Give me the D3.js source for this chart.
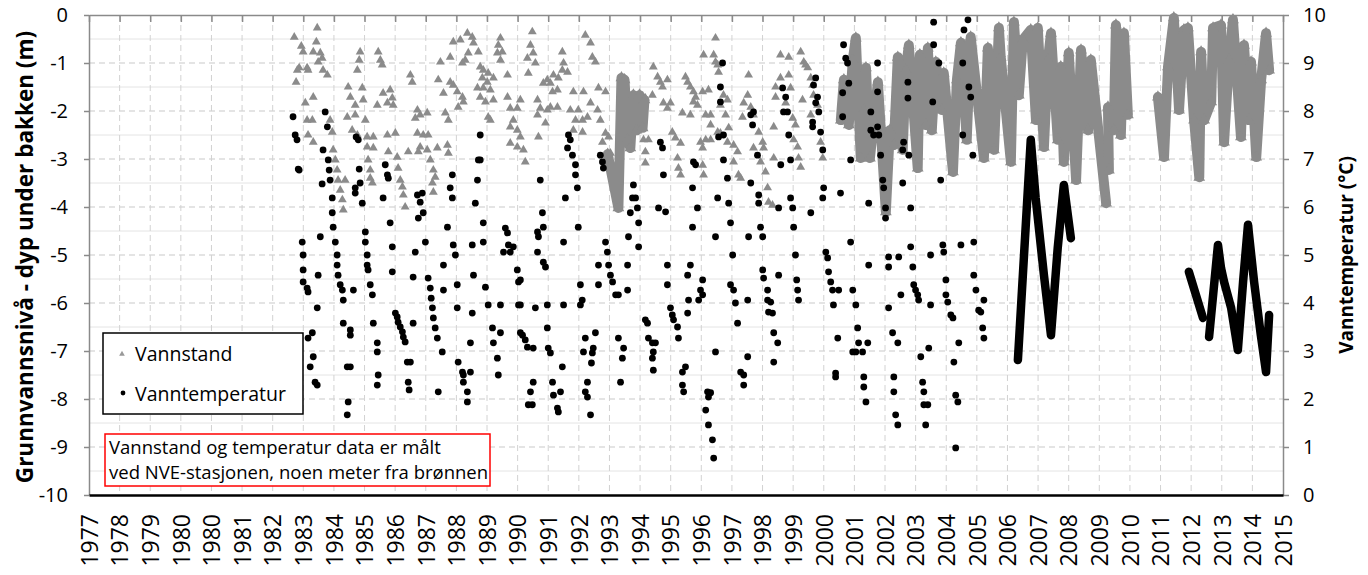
<!DOCTYPE html>
<html><head><meta charset="utf-8">
<script src="https://cdn.jsdelivr.net/npm/d3@7"></script>
<style>body{margin:0;background:#fff}svg{display:block}text{font-family:"Open Sans",sans-serif}</style>
</head><body><svg id="c" width="1368" height="575"></svg>
<script>
const xTickLabels = ["1977","1978","1979","1980","1980","1981","1982","1983","1984","1985","1986","1987","1988","1989","1990","1991","1992","1993","1994","1995","1996","1997","1998","1999","2000","2001","2002","2003","2004","2005","2006","2007","2008","2009","2010","2011","2012","2013","2014","2015"];
const depthTicks = [0,-1,-2,-3,-4,-5,-6,-7,-8,-9,-10];
const tempTicks = [0,1,2,3,4,5,6,7,8,9,10];
const leftTitle = "Grunnvannsnivå - dyp under bakken (m)";
const rightTitle = "Vanntemperatur (°C)";
const legendNames = ["Vannstand","Vanntemperatur"];
const noteLines = ["Vannstand og temperatur data er målt","ved NVE-stasjonen, noen meter fra brønnen"];

// Vannstand (m), sparse manual readings [year, depth]
const vannstand = [[1983.70,-0.46],[1983.93,-0.65],[1983.99,-0.77],[1983.86,-1.10],[1983.80,-1.15],[1984.12,-1.10],[1984.15,-1.15],[1984.45,-0.27],[1984.42,-0.56],[1984.32,-0.77],[1984.55,-0.79],[1984.61,-0.90],[1984.48,-0.98],[1984.64,-1.15],[1984.78,-1.25],[1983.76,-1.40],[1984.06,-1.83],[1984.32,-1.71],[1984.12,-2.19],[1984.29,-2.19],[1984.15,-2.50],[1984.32,-2.65],[1984.87,-2.19],[1984.94,-2.44],[1984.97,-2.81],[1985.04,-3.02],[1985.10,-3.23],[1985.13,-3.44],[1985.20,-3.65],[1985.27,-3.85],[1985.30,-4.06],[1985.36,-3.44],[1985.46,-1.50],[1985.53,-1.71],[1985.92,-1.52],[1985.69,-1.88],[1985.95,-1.77],[1985.85,-0.77],[1985.82,-0.94],[1985.76,-1.15],[1986.44,-0.77],[1986.51,-0.94],[1986.57,-1.04],[1985.43,-2.13],[1985.69,-2.08],[1986.02,-2.19],[1985.59,-2.40],[1985.76,-2.50],[1986.08,-2.54],[1986.28,-2.54],[1986.08,-2.75],[1986.28,-2.77],[1986.11,-3.02],[1986.18,-3.23],[1986.18,-3.40],[1986.25,-3.50],[1986.41,-1.88],[1986.60,-1.63],[1986.83,-1.56],[1986.90,-1.73],[1986.74,-1.83],[1986.93,-1.88],[1986.74,-2.50],[1987.00,-2.46],[1986.77,-2.85],[1987.06,-2.96],[1987.09,-3.19],[1987.16,-3.44],[1987.23,-3.58],[1987.26,-3.75],[1987.32,-4.00],[1987.49,-1.25],[1987.55,-1.40],[1987.72,-1.98],[1987.65,-2.15],[1987.81,-2.08],[1988.04,-2.04],[1987.72,-2.46],[1987.91,-2.50],[1988.07,-2.50],[1987.81,-2.75],[1988.04,-2.81],[1988.14,-3.02],[1988.24,-3.23],[1988.30,-3.38],[1988.21,-3.50],[1988.24,-3.69],[1987.42,-2.85],[1987.75,-2.85],[1988.37,-2.77],[1988.70,-2.71],[1988.73,-2.88],[1988.63,-2.04],[1988.73,-2.19],[1988.40,-1.35],[1988.47,-0.98],[1988.79,-0.88],[1988.89,-0.56],[1989.12,-0.52],[1989.35,-0.38],[1989.51,-0.46],[1989.55,-0.58],[1989.71,-0.77],[1989.38,-0.79],[1989.19,-1.00],[1989.28,-0.94],[1988.79,-1.40],[1988.89,-1.46],[1989.02,-1.60],[1989.19,-1.71],[1989.22,-1.81],[1989.05,-1.92],[1988.57,-1.63],[1989.77,-1.08],[1989.87,-1.15],[1990.03,-1.21],[1989.84,-1.31],[1990.00,-1.40],[1989.68,-1.52],[1989.87,-1.52],[1990.10,-1.56],[1989.77,-1.71],[1989.94,-1.81],[1990.20,-1.77],[1990.20,-1.31],[1990.43,-0.48],[1990.33,-0.79],[1990.49,-0.77],[1990.43,-0.94],[1990.66,-1.25],[1990.36,-0.63],[1990.03,-2.13],[1990.10,-2.19],[1990.66,-1.71],[1990.75,-1.94],[1990.98,-1.94],[1991.08,-1.77],[1990.85,-2.19],[1990.75,-2.33],[1990.98,-2.40],[1991.08,-2.54],[1990.75,-2.67],[1990.98,-2.75],[1991.18,-2.81],[1991.24,-3.06],[1991.47,-0.35],[1991.41,-0.63],[1991.50,-0.79],[1991.31,-0.90],[1991.57,-1.00],[1991.34,-1.21],[1991.64,-1.77],[1991.73,-1.94],[1991.96,-1.98],[1991.64,-2.08],[1991.90,-2.25],[1991.67,-2.54],[1991.83,-1.42],[1991.96,-1.35],[1992.06,-1.42],[1992.16,-1.25],[1992.32,-1.31],[1992.29,-1.56],[1992.13,-1.60],[1992.45,-1.15],[1992.62,-1.19],[1992.49,-1.00],[1992.45,-0.77],[1992.29,-1.92],[1992.06,-1.92],[1992.81,-1.60],[1993.14,-1.60],[1992.71,-1.98],[1992.97,-1.98],[1992.88,-2.19],[1993.11,-2.19],[1993.27,-2.13],[1993.37,-1.83],[1993.60,-1.98],[1993.69,-2.19],[1992.81,-2.40],[1993.11,-2.44],[1993.86,-2.46],[1993.96,-2.54],[1993.76,-2.65],[1993.63,-1.52],[1993.86,-1.60],[1993.20,-0.42],[1993.37,-0.58],[1993.43,-0.88],[1993.53,-0.98],[1994.02,-2.88],
[1995.16,-1.73],[1995.39,-1.67],[1995.10,-2.60],[1995.26,-2.60],[1995.16,-2.85],[1995.16,-3.08],[1995.42,-1.08],[1995.56,-1.29],[1995.65,-1.40],[1995.88,-1.35],[1995.72,-1.50],[1995.75,-1.83],[1995.98,-1.83],[1995.88,-1.94],[1996.04,-2.44],[1996.14,-2.56],[1996.31,-2.67],[1996.21,-2.98],[1996.24,-3.19],[1996.31,-3.33],[1996.47,-1.29],[1996.54,-1.40],[1996.63,-1.50],[1996.73,-1.60],[1996.80,-1.71],[1996.73,-1.81],[1996.86,-1.88],[1996.37,-2.04],[1996.63,-2.08],[1997.03,-1.60],[1997.13,-2.08],[1997.29,-2.08],[1996.96,-2.65],[1997.13,-2.60],[1997.29,-2.60],[1997.03,-2.77],[1997.03,-3.13],[1997.06,-3.33],[1997.06,-0.83],[1997.45,-0.48],[1997.39,-0.83],[1997.45,-0.98],[1997.55,-1.19],[1997.52,-1.04],[1997.22,-1.56],[1997.71,-1.67],[1997.84,-1.77],[1997.61,-1.88],[1997.78,-2.08],[1997.29,-2.29],[1997.52,-2.44],[1997.61,-2.46],[1997.88,-2.35],[1997.84,-2.65],[1998.04,-2.71],[1998.17,-2.85],[1998.04,-3.06],[1998.20,-3.33],[1998.27,-3.40],[1998.33,-2.13],[1998.53,-1.25],[1998.50,-1.67],[1998.37,-1.83],[1998.60,-1.92],[1998.69,-2.08],[1998.86,-2.44],[1998.99,-2.65],[1999.02,-2.77],[1998.69,-2.77],[1998.92,-3.06],[1999.08,-3.27],[1999.15,-3.60],[1999.18,-3.90],
[1999.57,-0.83],[1999.84,-0.88],[2000.23,-0.77],[2000.33,-0.98],[2000.39,-1.04],[2000.46,-1.10],[1999.41,-1.50],[1999.57,-1.31],[1999.84,-1.25],[1999.90,-1.52],[1999.41,-1.71],[1999.74,-1.83],[2000.29,-1.77],[2000.56,-1.31],[2000.62,-1.46],[2000.65,-1.67],[2000.78,-1.88],[1999.35,-2.33],[1999.97,-2.15],[2000.06,-2.29],[2000.00,-2.60],[2000.13,-2.75],[2000.16,-2.98],[2000.23,-3.17],[1999.35,-2.98],[1999.31,-3.96],[2000.88,-2.65],[2000.95,-2.98],[2000.56,-2.08]];

// Vannstand, continuous logger periods [year, depth]
const vannstandLogger1 = [[1993.93,-2.90],[1994.28,-4.02],[1994.38,-1.31],[1994.48,-1.35],[1994.58,-2.60],[1994.67,-2.77],[1994.77,-1.67],[1994.87,-2.40],[1994.97,-1.67],[1995.07,-2.35],[1995.13,-1.77]];
const vannstandLogger2 = [[2001.54,-2.19],[2001.64,-1.35],[2001.80,-2.29],[2001.93,-0.94],[2002.03,-0.48],[2002.19,-2.98],[2002.29,-1.98],[2002.36,-1.10],[2002.49,-2.98],[2002.62,-2.19],[2002.75,-1.40],[2003.01,-4.10],[2003.14,-2.40],[2003.27,-2.71],[2003.40,-0.88],[2003.56,-2.81],[2003.66,-1.15],[2003.76,-0.63],[2004.05,-3.19],[2004.12,-0.83],[2004.31,-2.29],[2004.38,-0.69],[2004.51,-2.40],[2004.64,-0.98],[2004.84,-1.98],[2004.90,-1.21],[2005.20,-3.27],[2005.33,-1.35],[2005.46,-0.58],[2005.65,-2.60],[2005.78,-0.46],[2006.21,-2.98],[2006.34,-0.69],[2006.54,-2.81],[2006.70,-0.27],[2006.76,-0.88],[2007.09,-3.06],[2007.19,-0.15],[2007.35,-1.67],[2007.48,-0.52],[2007.74,-0.31],[2007.91,-2.19],[2007.97,-0.27],[2008.17,-2.75],[2008.30,-0.94],[2008.40,-0.38],[2008.62,-2.60],[2008.72,-1.08],[2008.82,-3.06],[2008.98,-0.79],[2009.22,-3.44],[2009.38,-0.73],[2009.61,-2.40],[2009.70,-0.94],[2010.20,-3.92]];
const vannstandLogger3 = [[2010.26,-1.92],[2010.29,-3.23]];
const vannstandLogger4 = [[2010.45,-2.40],[2010.52,-0.21],[2010.68,-2.50],[2010.78,-0.38],[2010.91,-2.08]];
const vannstandLogger5 = [[2011.89,-1.71],[2012.09,-2.96],[2012.22,-1.08],[2012.41,-0.06],[2012.58,-1.98],[2012.74,-0.31],[2012.87,-0.27],[2013.07,-2.19],[2013.24,-3.38],[2013.30,-0.77],[2013.40,-2.19],[2013.63,-1.81],[2013.69,-0.27],[2013.95,-0.21],[2014.05,-2.65],[2014.21,-0.94],[2014.34,-0.10],[2014.60,-2.54],[2014.70,-0.63],[2014.86,-2.19],[2014.93,-0.98],[2015.10,-2.96],[2015.26,-1.35],[2015.42,-0.38],[2015.52,-1.15]];

// Vanntemperatur (°C), manual readings [year, temp]
const temperatur = [[1983.66,7.88],[1983.73,7.50],[1983.79,7.40],[1983.83,6.79],[1983.86,6.77],[1984.71,7.98],[1984.78,7.67],[1984.64,7.19],[1984.81,6.98],[1984.84,6.77],[1984.87,6.56],[1984.61,6.48],[1984.94,6.19],[1984.94,5.88],[1984.97,5.58],[1985.04,5.27],[1985.10,5.00],[1985.10,4.79],[1985.13,4.58],[1985.20,4.38],[1985.27,4.27],[1985.30,4.06],[1985.30,3.58],[1985.53,3.44],[1985.53,3.33],[1985.43,2.67],[1985.53,2.67],[1985.46,1.94],[1985.43,1.67],[1983.96,5.27],[1983.99,5.00],[1983.99,4.69],[1983.99,4.44],[1984.12,4.31],[1984.15,4.23],[1984.48,4.58],[1984.55,5.38],[1984.45,3.90],[1984.29,3.38],[1984.15,3.27],[1984.32,2.88],[1984.22,2.67],[1984.38,2.35],[1984.45,2.29],[1985.63,4.27],[1985.72,7.46],[1985.79,7.40],[1985.69,6.40],[1985.69,6.29],[1985.85,6.50],[1985.82,6.79],[1985.92,6.08],[1986.02,5.48],[1986.02,5.27],[1986.08,5.00],[1986.08,4.79],[1986.11,4.69],[1986.18,4.38],[1986.25,4.17],[1986.28,3.58],[1986.41,3.17],[1986.41,2.98],[1986.44,2.50],[1986.41,2.29],[1986.67,6.88],[1986.74,6.67],[1986.77,6.60],[1986.60,6.19],[1986.83,5.67],[1986.90,5.17],[1986.90,4.65],[1987.00,3.79],[1987.06,3.71],[1987.09,3.60],[1987.16,3.50],[1987.23,3.40],[1987.26,3.29],[1987.32,3.19],[1987.39,2.77],[1987.49,2.77],[1987.42,2.35],[1987.45,2.19],[1987.58,3.58],[1987.72,6.25],[1987.88,6.29],[1987.81,6.10],[1987.75,5.77],[1987.91,5.88],[1987.65,5.06],[1987.58,4.54],[1987.98,5.27],[1988.07,4.52],[1988.14,4.31],[1988.17,4.10],[1988.21,3.90],[1988.24,3.69],[1988.30,3.48],[1988.37,3.27],[1988.53,2.98],[1988.40,2.15],[1988.86,6.67],[1988.79,6.40],[1988.86,6.19],[1988.70,5.58],[1988.57,4.79],[1988.57,4.27],[1988.89,5.21],[1988.96,5.00],[1989.02,4.38],[1989.02,3.90],[1989.05,2.77],[1989.19,2.56],[1989.22,2.50],[1989.22,2.35],[1989.35,2.15],[1989.35,1.94],[1989.45,2.56],[1989.45,3.17],[1989.51,3.79],[1989.55,4.58],[1989.51,5.21],[1989.77,7.50],[1989.71,6.98],[1989.77,6.98],[1989.68,6.56],[1989.61,6.08],[1989.87,5.67],[1989.87,5.27],[1989.94,4.33],[1990.03,3.96],[1990.17,3.48],[1990.20,3.17],[1990.33,2.85],[1990.36,2.50],[1990.43,3.96],[1990.43,3.38],[1990.59,5.56],[1990.66,5.46],[1990.69,5.21],[1990.75,5.06],[1990.53,5.06],[1990.85,5.17],[1990.98,4.69],[1991.02,4.44],[1991.02,3.96],[1991.08,3.38],
[1991.08,4.48],[1991.08,3.96],[1991.15,3.33],[1991.24,3.23],[1991.31,3.08],[1991.50,3.06],[1991.73,6.56],[1991.80,5.88],[1991.83,5.58],[1991.64,5.48],[1991.67,5.38],[1991.64,5.06],[1991.83,4.85],[1991.90,4.75],[1991.57,3.90],[1991.96,3.96],[1991.96,3.48],[1991.99,3.06],[1992.06,2.96],[1991.50,2.35],[1991.41,2.15],[1991.34,1.88],[1991.47,1.88],[1992.13,2.35],[1992.16,2.08],[1992.29,1.81],[1992.32,1.73],[1992.39,2.15],[1992.45,2.67],[1992.55,6.19],[1992.49,5.27],[1992.49,3.96],[1992.65,7.50],[1992.71,7.40],[1992.62,7.23],[1992.78,7.08],[1992.88,6.88],[1992.88,6.67],[1992.94,6.40],[1992.97,5.58],[1993.04,4.38],[1993.10,4.06],[1993.04,3.96],[1993.20,3.27],[1993.14,2.98],[1993.46,3.06],[1993.53,3.38],[1993.43,2.96],[1993.40,2.75],[1993.27,2.35],[1993.20,2.15],[1993.27,2.04],[1993.37,1.67],[1993.69,7.08],[1993.76,6.94],[1993.79,6.81],[1993.86,5.27],[1993.92,5.06],[1993.63,4.79],[1993.96,4.79],[1994.02,4.58],[1994.09,4.44],[1994.19,4.17],[1994.28,4.17],[1993.63,4.38],[1994.28,3.27],[1994.45,3.06],[1994.41,2.85],[1994.35,2.35],[1994.58,4.79],[1994.58,4.27],[1994.61,5.38],[1994.67,5.88],[1994.74,6.19],[1994.77,6.46],[1994.84,6.19],[1994.90,5.98],[1994.94,5.67],[1994.94,5.17],[1995.16,3.65],[1995.23,3.58],[1995.26,3.27],[1995.39,3.17],[1995.49,3.17],[1995.42,2.98],[1995.39,2.85],[1995.42,2.60],[1995.65,7.35],[1995.72,7.23],[1995.59,5.98],[1995.82,5.90],[1995.75,6.67],[1995.88,4.79],[1995.88,4.38],[1995.98,3.90],[1996.04,3.75],[1996.08,3.65],[1996.21,3.50],[1996.24,3.27],[1996.37,2.56],[1996.47,2.67],[1996.37,2.29],[1996.41,2.15],[1996.54,4.58],[1996.57,4.06],[1996.54,3.79],[1996.63,4.79],[1996.73,6.94],[1996.80,6.88],[1996.70,6.40],[1996.86,5.98],[1996.70,5.58],[1997.03,4.48],[1996.96,4.27],[1997.03,4.17],[1996.90,4.06],[1997.19,2.15],[1997.29,2.13],[1997.22,2.04],[1997.13,1.77],[1997.22,1.46],[1997.35,1.15],[1997.39,0.77],[1997.45,2.98],[1997.68,9.00],[1997.61,8.50],[1997.61,8.19],[1997.55,7.46],[1997.71,7.50],[1997.71,6.98],[1997.84,6.60],[1997.52,6.19],[1997.88,6.08],[1997.94,5.67],[1997.45,5.38],[1998.01,5.00],[1997.94,4.38],[1998.04,4.27],[1998.10,4.00],[1998.17,3.58],[1998.27,2.56],[1998.37,2.50],[1998.37,2.29],[1998.50,2.88],[1998.50,4.06],[1998.53,5.38],[1998.60,7.92],[1998.69,7.98],[1998.66,7.71],[1998.82,7.08],[1998.60,6.50],[1998.86,6.25],[1998.86,6.08],[1998.92,5.58],[1998.99,5.38],[1998.99,4.69],[1999.02,4.52],[1999.15,4.27],[1999.15,4.06],[1999.18,3.81],
[1999.25,4.02],[1999.31,3.79],[1999.35,3.38],[1999.48,3.17],[1999.35,2.77],[1999.51,4.58],[1999.64,8.48],[1999.74,8.29],[1999.67,7.98],[1999.80,7.98],[1999.84,7.50],[1999.90,6.98],[1999.58,6.88],[1999.90,6.19],[1999.97,5.98],[1999.51,5.98],[2000.00,5.58],[2000.06,5.00],[2000.10,4.48],[2000.13,4.27],[2000.16,4.06],[2000.72,8.69],[2000.65,8.54],[2000.78,8.29],[2000.72,8.17],[2000.82,7.98],[2000.62,7.77],[2000.62,7.67],[2000.88,7.56],[2000.95,7.19],[2000.56,5.88],[2000.98,6.40],[2000.95,6.19],[2001.53,6.29],[2001.05,5.06],[2001.11,4.94],[2001.14,4.65],[2001.21,4.44],[2001.27,4.27],[2001.47,4.27],[2001.30,3.96],[2001.44,3.27],[2001.37,2.54],[2001.37,2.46],[2001.63,9.38],[2001.70,9.10],[2001.76,9.00],[2001.80,8.58],[2001.60,8.38],[2001.60,7.88],[2001.86,6.98],[2001.86,5.27],[2001.93,4.27],[2002.03,3.96],[2002.09,3.48],[2002.12,3.17],[2001.93,2.98],[2002.03,2.98],[2002.25,2.98],[2002.42,3.17],[2002.29,2.46],[2002.29,2.25],[2002.36,1.94],[2002.45,6.08],[2002.52,7.98],[2002.52,7.60],[2002.61,7.50],[2002.78,7.50],[2002.74,7.67],[2002.74,8.40],[2002.74,9.00],[2002.45,4.79],[2002.84,7.08],[2002.91,6.56],[2002.94,6.40],[2003.00,5.98],[2003.00,5.77],[2003.10,4.96],[2003.10,4.75],[2003.23,3.38],[2003.27,2.46],[2003.27,2.15],[2003.33,1.67],[2003.40,1.46],[2003.10,3.90],[2003.40,3.17],[2003.43,4.96],[2003.50,4.17],[2003.56,6.50],[2003.59,7.35],[2003.56,7.19],[2003.73,8.60],[2003.73,8.27],[2003.76,7.08],[2003.82,5.98],[2003.82,5.17],[2003.89,4.75],[2003.92,4.38],[2003.98,4.27],[2004.05,4.17],[2004.08,4.06],[2004.15,2.88],[2004.21,2.35],[2004.25,2.15],[2004.25,1.88],[2004.38,1.88],[2004.31,1.46],[2004.41,3.06],[2004.47,3.96],[2004.54,8.19],[2004.47,5.00],[2004.57,9.85],[2004.57,9.38],[2004.74,9.00],[2004.80,6.56],[2004.87,5.21],[2004.90,5.06],[2004.97,4.48],[2004.97,4.17],[2005.03,4.02],[2005.13,3.75],[2005.20,3.69],[2005.39,3.17],[2005.23,2.77],[2005.29,2.08],[2005.36,1.94],[2005.29,0.98],[2005.46,5.21],[2005.52,7.50],[2005.52,9.00],[2005.56,9.69],[2005.69,9.90],[2005.72,8.50],[2005.78,8.29],[2005.85,7.08],[2005.88,4.58],[2005.95,4.27],[2006.04,3.85],[2006.11,3.81],[2006.17,3.48],[2006.21,3.27],[2006.21,4.06],[2005.88,5.27]];

// Vanntemperatur, continuous logger periods [year, temp]
const temperaturLogger1 = [[2007.32,2.81],[2007.74,7.40],[2007.90,6.19],[2008.17,4.58],[2008.40,3.33],[2008.62,5.15],[2008.82,6.46],[2009.05,5.35]];
const temperaturLogger2 = [[2012.90,4.65],[2013.36,3.69]];
const temperaturLogger3 = [[2013.56,3.29],[2013.85,5.21],[2013.95,4.73],[2014.05,4.44],[2014.28,3.90],[2014.50,3.02],[2014.67,4.44],[2014.83,5.63],[2015.03,4.44],[2015.25,3.33],[2015.42,2.56],[2015.52,3.75]];

const svg = d3.select("#c");
const L=89, R=1283, T=15, B=495;
const xEnd = 1977 + 39*365/365.25;
const x = d3.scaleLinear().domain([1977, xEnd]).range([L, R]);
const yL = d3.scaleLinear().domain([-10, 0]).range([B, T]);
const yR = d3.scaleLinear().domain([0, 10]).range([B, T]);
const xTickPos = xTickLabels.map((_, i) => 1977 + i*365/365.25);
const FONT = '"Open Sans",sans-serif';

// grid
const g = svg.append("g");
g.selectAll(".hmin").data(d3.range(-9.5, 0, 1)).join("line")
  .attr("x1", L).attr("x2", R).attr("y1", d => yL(d)).attr("y2", d => yL(d))
  .attr("stroke", "#e4e4e4").attr("stroke-width", 1);
g.selectAll(".hmaj").data(depthTicks.filter(d => d < 0 && d > -10)).join("line")
  .attr("x1", L).attr("x2", R).attr("y1", d => yL(d)).attr("y2", d => yL(d))
  .attr("stroke", "#c9c9c9").attr("stroke-width", 1).attr("stroke-dasharray", "6,4");
g.selectAll(".vmaj").data(xTickPos.slice(1, -1)).join("line")
  .attr("x1", d => x(d)).attr("x2", d => x(d)).attr("y1", T).attr("y2", B)
  .attr("stroke", "#d2d2d2").attr("stroke-width", 1).attr("stroke-dasharray", "6,4");

// top border with inward ticks
const topAx = svg.append("g").attr("transform", `translate(0,${T})`)
  .call(d3.axisBottom(x).tickValues(xTickPos).tickFormat("").tickSize(7).tickSizeOuter(0));
topAx.select(".domain").attr("stroke", "#8a8a8a").attr("stroke-width", 1.5);
topAx.selectAll(".tick line").attr("stroke", "#8a8a8a").attr("stroke-width", 1.5);

// left axis
const lAx = svg.append("g").attr("transform", `translate(${L},0)`)
  .call(d3.axisLeft(yL).tickValues(depthTicks).tickFormat(d => String(d)).tickSize(5).tickSizeOuter(0).tickPadding(16));
lAx.select(".domain").attr("stroke", "#8a8a8a").attr("stroke-width", 1.5);
lAx.selectAll(".tick line").attr("stroke", "#8a8a8a").attr("stroke-width", 1.5);
lAx.selectAll("text").attr("font-size", 20).attr("fill", "#000").style("font-family", FONT);

// right axis
const rAx = svg.append("g").attr("transform", `translate(${R},0)`)
  .call(d3.axisRight(yR).tickValues(tempTicks).tickSize(6).tickSizeOuter(0).tickPadding(14));
rAx.select(".domain").attr("stroke", "#8a8a8a").attr("stroke-width", 1.5);
rAx.selectAll(".tick line").attr("stroke", "#8a8a8a").attr("stroke-width", 1.5);
rAx.selectAll("text").attr("font-size", 20).attr("fill", "#000").style("font-family", FONT);

// data: vannstand loggers
const lineL = d3.line().x(d => x(d[0])).y(d => yL(d[1]));
const lineR = d3.line().x(d => x(d[0])).y(d => yR(d[1]));
const gray = "#8b8b8b";
const loggers = [vannstandLogger1, vannstandLogger2, vannstandLogger3, vannstandLogger4, vannstandLogger5];
svg.append("g").selectAll("path").data(loggers).join("path")
  .attr("d", lineL).attr("fill", "none").attr("stroke", gray).attr("stroke-width", 10)
  .attr("stroke-linejoin", "round").attr("stroke-linecap", "round");
const tri = d3.symbol(d3.symbolTriangle, 34);
svg.append("g").selectAll("path").data(loggers.flat()).join("path")
  .attr("d", d3.symbol(d3.symbolTriangle, 60)).attr("transform", d => `translate(${x(d[0])},${yL(d[1])})`).attr("fill", gray);
svg.append("g").selectAll("path").data(vannstand).join("path")
  .attr("d", tri).attr("transform", d => `translate(${x(d[0])},${yL(d[1])})`).attr("fill", gray);

// temperatur
svg.append("g").selectAll("circle").data(temperatur).join("circle")
  .attr("cx", d => x(d[0])).attr("cy", d => yR(d[1])).attr("r", 3.4).attr("fill", "#000");
svg.append("g").selectAll("path").data([temperaturLogger1, temperaturLogger2, temperaturLogger3]).join("path")
  .attr("d", lineR).attr("fill", "none").attr("stroke", "#000").attr("stroke-width", 8.5)
  .attr("stroke-linejoin", "round").attr("stroke-linecap", "round");

// bottom axis
const bAx = svg.append("g").attr("transform", `translate(0,${B})`)
  .call(d3.axisBottom(x).tickValues(xTickPos).tickFormat((d, i) => xTickLabels[i]).tickSize(0).tickSizeOuter(0));
bAx.select(".domain").attr("stroke", "#000").attr("stroke-width", 2.5);
bAx.selectAll("text").attr("font-size", 23).attr("fill", "#000").style("font-family", FONT)
  .attr("text-anchor", "end").attr("transform", "translate(0,19) rotate(-90)").attr("x", 0).attr("y", 0).attr("dy", "0.36em");

// titles
svg.append("text").attr("transform", "translate(33,257) rotate(-90)").attr("text-anchor", "middle")
  .attr("font-size", 22.5).attr("font-weight", "bold").text(leftTitle);
svg.append("text").attr("transform", "translate(1353,255) rotate(-90)").attr("text-anchor", "middle")
  .attr("font-size", 19).attr("font-weight", "bold").text(rightTitle);

// legend
const lg = svg.append("g");
lg.append("rect").attr("x", 103).attr("y", 333).attr("width", 200).attr("height", 81)
  .attr("fill", "#fff").attr("stroke", "#000").attr("stroke-width", 1.5);
lg.append("path").attr("d", d3.symbol(d3.symbolTriangle, 14)).attr("transform", "translate(122,354)").attr("fill", "#999");
lg.append("circle").attr("cx", 123).attr("cy", 393).attr("r", 2.4).attr("fill", "#000");
lg.selectAll("text").data(legendNames).join("text").attr("x", 135).attr("y", (d, i) => 354 + i*40)
  .attr("dy", "0.35em").attr("font-size", 19.5).text(d => d);

// note box
const nb = svg.append("g");
nb.append("rect").attr("x", 105).attr("y", 434).attr("width", 385).attr("height", 52)
  .attr("fill", "#fff").attr("stroke", "#ff0000").attr("stroke-width", 1.5);
nb.selectAll("text").data(noteLines).join("text").attr("x", 109).attr("y", (d, i) => 448 + i*25)
  .attr("dy", "0.35em").attr("font-size", 18.5).text(d => d);
</script></body></html>
